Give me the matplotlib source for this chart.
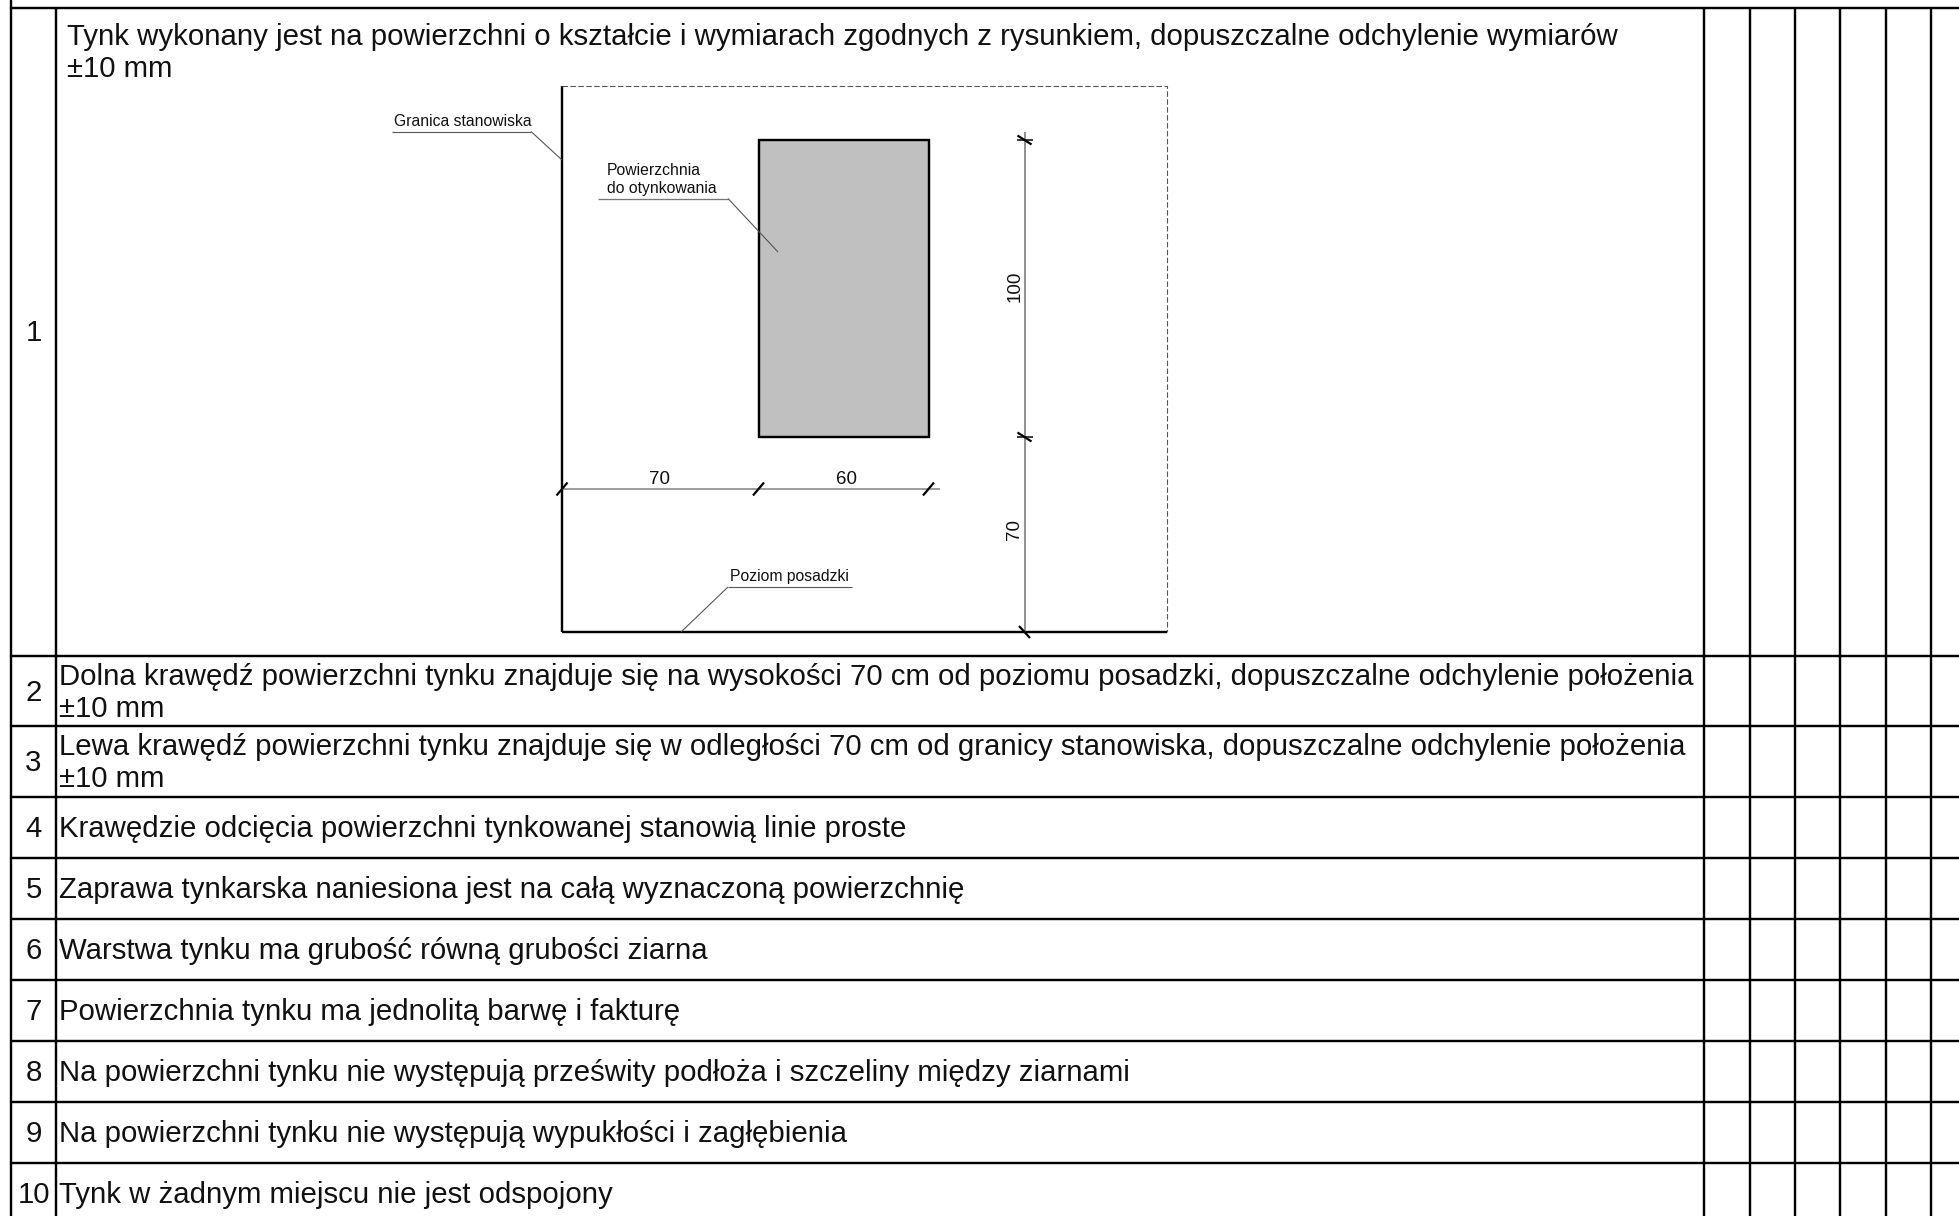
import matplotlib
matplotlib.use('Agg')
import matplotlib.pyplot as plt

# table
row_numbers = ['1', '2', '3', '4', '5', '6', '7', '8', '9', '10']
row_texts = [
    'Tynk wykonany jest na powierzchni o kształcie i wymiarach zgodnych z rysunkiem, dopuszczalne odchylenie wymiarów\n±10 mm',
    'Dolna krawędź powierzchni tynku znajduje się na wysokości 70 cm od poziomu posadzki, dopuszczalne odchylenie położenia\n±10 mm',
    'Lewa krawędź powierzchni tynku znajduje się w odległości 70 cm od granicy stanowiska, dopuszczalne odchylenie położenia\n±10 mm',
    'Krawędzie odcięcia powierzchni tynkowanej stanowią linie proste',
    'Zaprawa tynkarska naniesiona jest na całą wyznaczoną powierzchnię',
    'Warstwa tynku ma grubość równą grubości ziarna',
    'Powierzchnia tynku ma jednolitą barwę i fakturę',
    'Na powierzchni tynku nie występują prześwity podłoża i szczeliny między ziarnami',
    'Na powierzchni tynku nie występują wypukłości i zagłębienia',
    'Tynk w żadnym miejscu nie jest odspojony',
]
row_edges = [7.5, 656, 726, 797, 858, 919, 980, 1041, 1102, 1163, 1216]
col_edges = [11, 56, 1704, 1750, 1795, 1840, 1886, 1931]
text_baselines = [45, 685, 755, 837, 898, 959, 1020, 1081, 1142, 1203]
number_baselines = [341, 701, 771, 837, 898, 959, 1020, 1081, 1142, 1203]

# drawing, dimensions in cm and where they sit on the page
width_dims = ['70', '60']
height_dims = ['100', '70']
stand_x = [562, 1167]
stand_y = [86, 632]
surface_x = [758.5, 928.5]
surface_y = [140, 437]
dim_line_x = 1024.5
dim_line_y = 489

W, H = 1959, 1216
fig = plt.figure(figsize=(W / 100, H / 100), dpi=100)
ax = fig.add_axes([0, 0, 1, 1])
ax.set_xlim(0, W)
ax.set_ylim(H, 0)
ax.axis('off')
plt.rcParams['font.family'] = ['Liberation Sans', 'DejaVu Sans']

PX = 0.72
INK = '#000000'
TXT = '#111111'
BIG = 21.2
SMALL = 11.3
DIM = 13.5


def line(xs, ys, lw=2.0, color=INK, **kw):
    ax.plot(xs, ys, color=color, lw=lw * PX, solid_capstyle='butt', **kw)


# grid
for y in row_edges[:-1]:
    line([11, W], [y, y], 2.4)
line([11, 11], [0, H], 2.4)
for x in col_edges[1:]:
    line([x, x], [7.5, H], 2.4)

# rows
for i, (num, txt) in enumerate(zip(row_numbers, row_texts)):
    ax.text(33.5, number_baselines[i], num, fontsize=BIG, color=TXT, ha='center', va='baseline')
    x0 = 67 if i == 0 else 59
    for k, part in enumerate(txt.split('\n')):
        ax.text(x0, text_baselines[i] + k * 32, part, fontsize=BIG, color=TXT, ha='left', va='baseline')

# stand outline
line([stand_x[0], stand_x[0]], [stand_y[0], stand_y[1]], 2.4)
line([stand_x[0], stand_x[1]], [stand_y[1], stand_y[1]], 2.4)
ax.plot([stand_x[0], stand_x[1], stand_x[1]], [stand_y[0], stand_y[0], stand_y[1]],
        color='#555555', lw=1.1 * PX, dashes=(5, 2.2))

# surface
ax.fill([surface_x[0], surface_x[1], surface_x[1], surface_x[0]],
        [surface_y[0], surface_y[0], surface_y[1], surface_y[1]],
        facecolor='#c0c0c0', edgecolor=INK, lw=2.4 * PX)

# dimension lines
line([stand_x[0], 940], [dim_line_y, dim_line_y], 1.5, '#808080')
line([dim_line_x, dim_line_x], [surface_y[0] - 8, stand_y[1]], 1.5, '#707070')
for x in [stand_x[0], surface_x[0], surface_x[1]]:
    line([x - 5.5, x + 5.5], [dim_line_y + 6.5, dim_line_y - 6.5], 2.2)
for y in [surface_y[0], surface_y[1]]:
    line([dim_line_x - 7, dim_line_x + 7], [y - 4.5, y + 4.5], 2.2)
    line([dim_line_x - 8, dim_line_x + 8], [y, y], 1.5)
line([dim_line_x - 5.5, dim_line_x + 5.5], [stand_y[1] - 6, stand_y[1] + 6], 2.2)

ax.text(660, 484, width_dims[0], fontsize=DIM, color=TXT, ha='center', va='baseline')
ax.text(846.5, 484, width_dims[1], fontsize=DIM, color=TXT, ha='center', va='baseline')
ax.text(1015, 286, height_dims[0], fontsize=DIM, color=TXT, ha='center', va='center', rotation=90)
ax.text(1014, 530, height_dims[1], fontsize=DIM, color=TXT, ha='center', va='center', rotation=90)

# callouts
ax.text(394, 126, 'Granica stanowiska', fontsize=SMALL, color=TXT, ha='left', va='baseline')
line([392, 531], [131.5, 131.5], 1.1, '#555555')
line([531, 562], [131.5, 160], 1.1, '#555555')

ax.text(607, 175, 'Powierzchnia', fontsize=SMALL, color=TXT, ha='left', va='baseline')
ax.text(607, 193, 'do otynkowania', fontsize=SMALL, color=TXT, ha='left', va='baseline')
line([598, 728], [198.5, 198.5], 1.3, '#777777')
line([728, 778], [198.5, 252], 1.1, '#555555')

ax.text(730, 581, 'Poziom posadzki', fontsize=SMALL, color=TXT, ha='left', va='baseline')
line([728, 852], [587, 587], 1.1, '#555555')
line([728, 681], [587, 632], 1.1, '#555555')

fig.savefig('out.png', dpi=100)
